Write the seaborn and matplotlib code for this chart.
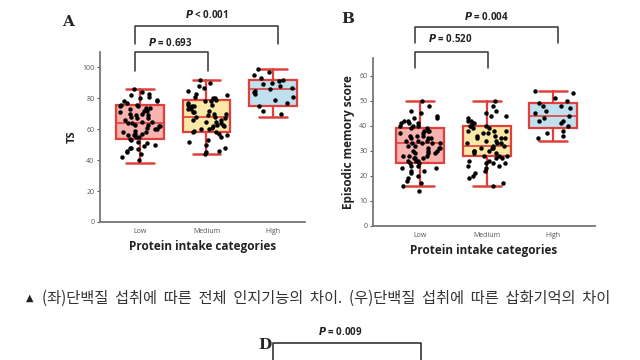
import numpy as np
import pandas as pd
import matplotlib
matplotlib.use('Agg')
import matplotlib.pyplot as plt
import seaborn as sns
from matplotlib.lines import Line2D

sns.set_style('white')
plt.rcParams['font.family'] = ['Open Sans', 'DejaVu Sans']

categories = ['Low', 'Medium', 'High']

# 패널 A: TS 점수 (점)
ts_low = [84, 83, 82, 80, 79, 78, 78, 77, 76, 76, 75, 75, 74, 73, 72, 72, 71, 70, 70, 69,
          68, 67, 67, 66, 65, 65, 64, 64, 63, 62, 62, 61, 60, 60, 59, 58, 58, 57, 56, 56,
          55, 55, 54, 53, 52, 50, 49, 48, 48, 47, 46, 45, 44, 42, 40, 86, 81, 74, 69, 63,
          57, 51]
ts_med = [92, 90, 88, 87, 85, 83, 82, 81, 80, 80, 79, 78, 78, 77, 76, 75, 75, 74, 73, 72,
          71, 70, 70, 69, 68, 68, 67, 66, 65, 65, 64, 63, 62, 62, 61, 60, 60, 59, 58, 58,
          57, 56, 55, 53, 52, 50, 48, 46, 45, 44, 71, 66, 73, 63, 76]
ts_high = [99, 97, 95, 93, 92, 91, 90, 89, 88, 87, 86, 85, 84, 83, 81, 79, 77, 75, 72, 70]

# 패널 A: 상자 요약값 (whislo, q1, med, q3, whishi)
ts_box = [(38, 54, 64, 76, 86), (44, 58, 68, 79, 92), (68, 75, 86, 92, 99)]

# 패널 B: Episodic memory score (점)
em_low = [50, 48, 46, 45, 44, 43, 42, 42, 41, 41, 40, 40, 39, 39, 38, 38, 37, 37, 36, 36,
          35, 35, 34, 34, 33, 33, 33, 32, 32, 31, 31, 30, 30, 29, 29, 28, 28, 27, 27, 26,
          26, 25, 25, 24, 24, 23, 22, 22, 21, 20, 19, 18, 17, 16, 14, 43, 38, 35, 31, 29,
          27, 34, 40, 36, 30, 26, 23, 41, 33, 28]
em_med = [50, 48, 46, 45, 44, 43, 42, 41, 41, 40, 40, 39, 39, 38, 38, 37, 36, 36, 35, 35,
          34, 34, 33, 33, 32, 32, 31, 31, 30, 30, 29, 29, 28, 28, 27, 26, 26, 25, 25, 24,
          23, 22, 21, 20, 19, 17, 16, 42, 37, 33, 30, 27, 25, 40, 35, 31, 44, 28, 24, 38]
em_high = [54, 53, 51, 50, 49, 48, 48, 47, 46, 45, 44, 43, 42, 42, 41, 40, 38, 37, 36, 35]

em_box = [(16, 25, 33, 39, 50), (16, 28, 32, 40, 50), (34, 39, 44, 49, 54)]

p_a = ['P = 0.693', 'P < 0.001']
p_b = ['P = 0.520', 'P = 0.004']
caption = '(좌)단백질 섭취에 따른 전체 인지기능의 차이. (우)단백질 섭취에 따른 삽화기억의 차이'

box_fill = ['#f6b3b0', '#fbe7a6', '#bfe0ef']
red = '#e0403c'

W, H = 640, 360


def panel(fig, rect, xlim, vals, box, ylim, yticks, ylabel, ylsize, letter, pvals, br):
    ax = fig.add_axes(rect)
    df = pd.DataFrame({'cat': sum([[c] * len(v) for c, v in zip(categories, vals)], []),
                       'val': sum(vals, [])})
    stats = [dict(whislo=b[0], q1=b[1], med=b[2], q3=b[3], whishi=b[4], fliers=[])
             for b in box]
    bp = ax.bxp(stats, positions=[0, 1, 2], widths=0.72, patch_artist=True,
                showfliers=False, capwidths=0.42,
                boxprops=dict(edgecolor=red, linewidth=1.6),
                whiskerprops=dict(color=red, linewidth=1.6),
                capprops=dict(color=red, linewidth=1.8),
                medianprops=dict(color=red, linewidth=1.2))
    for patch, c in zip(bp['boxes'], box_fill):
        patch.set_facecolor(c)
    np.random.seed(3)
    sns.stripplot(data=df, x='cat', y='val', order=categories, color='black',
                  size=3.2, jitter=0.32, ax=ax, zorder=3)
    ax.set_xlim(*xlim)
    ax.set_ylim(*ylim)
    ax.set_yticks(yticks)
    ax.set_xticks([0, 1, 2])
    ax.set_xticklabels(categories)
    for s in ['top', 'right']:
        ax.spines[s].set_visible(False)
    for s in ['left', 'bottom']:
        ax.spines[s].set_color('#777777')
        ax.spines[s].set_linewidth(1.3)
    ax.tick_params(axis='both', labelsize=5, colors='#555555', length=2, width=0.8,
                   pad=2, left=True, bottom=False)
    ax.set_xlabel('Protein intake categories', fontsize=8.5, fontweight='bold',
                  color='#222222', labelpad=4)
    ax.set_ylabel(ylabel, fontsize=ylsize, fontweight='bold', color='#222222', labelpad=3)
    # 유의성 브래킷
    (y1, d1, t1), (y2, d2, t2) = br
    kw = dict(color='#333333', linewidth=1.1, clip_on=False)
    ax.plot([-0.08, -0.08, 1.02, 1.02], [d1, y1, y1, d1], **kw)
    ax.plot([-0.08, -0.08, 2.07, 2.07], [d2, y2, y2, d2], **kw)
    for x, t, p in [(0.45, t1, pvals[0]), (1.0, t2, pvals[1])]:
        ax.text(x, t, r'$\bfit{P}$' + p[1:], fontsize=7, fontweight='bold',
                ha='center', va='center', color='#222222', clip_on=False)
    fig.text(letter[1] / W, 1 - letter[2] / H, letter[0], fontsize=11,
             fontweight='bold', family='serif', ha='center', va='center')
    return ax


fig = plt.figure(figsize=(6.4, 3.6), dpi=100)
fig.patch.set_facecolor('white')

panel(fig, [100 / W, 1 - 222 / H, 205 / W, 170 / H], (-0.6, 2.48),
      [ts_low, ts_med, ts_high], ts_box, (0, 110), [0, 20, 40, 60, 80, 100], 'TS', 8,
      ('A', 68, 22), p_a, [(110, 98, 116), (127, 115.5, 134)])

panel(fig, [373 / W, 1 - 226 / H, 222 / W, 168 / H], (-0.71, 2.63),
      [em_low, em_med, em_high], em_box, (0, 67), [0, 10, 20, 30, 40, 50, 60],
      'Episodic memory score', 8.5, ('B', 348, 19), p_b,
      [(69.5, 63, 74.5), (79.5, 73, 83.5)])

fig.text(26 / W, 1 - 298 / H, '▲', fontsize=7, color='#222222',
         family=['DejaVu Sans'], ha='left', va='center')
fig.text(42 / W, 1 - 298 / H, caption.replace(' ', '  '), fontsize=11, color='#333333',
         family=['Noto Sans CJK KR', 'DejaVu Sans'], ha='left', va='center')

# 아래 잘린 패널 D
fig.text(265 / W, 1 - 345 / H, 'D', fontsize=11, fontweight='bold', family='serif',
         ha='center', va='center')
fig.text(340 / W, 1 - 332 / H, r'$\bfit{P}$' + ' = 0.009', fontsize=7,
         fontweight='bold', ha='center', va='center', color='#222222')
fig.add_artist(Line2D([273 / W, 273 / W, 421 / W, 421 / W],
                      [0, 1 - 343 / H, 1 - 343 / H, 0], color='#222222', linewidth=1.1))

fig.savefig('out.png', dpi=100)
